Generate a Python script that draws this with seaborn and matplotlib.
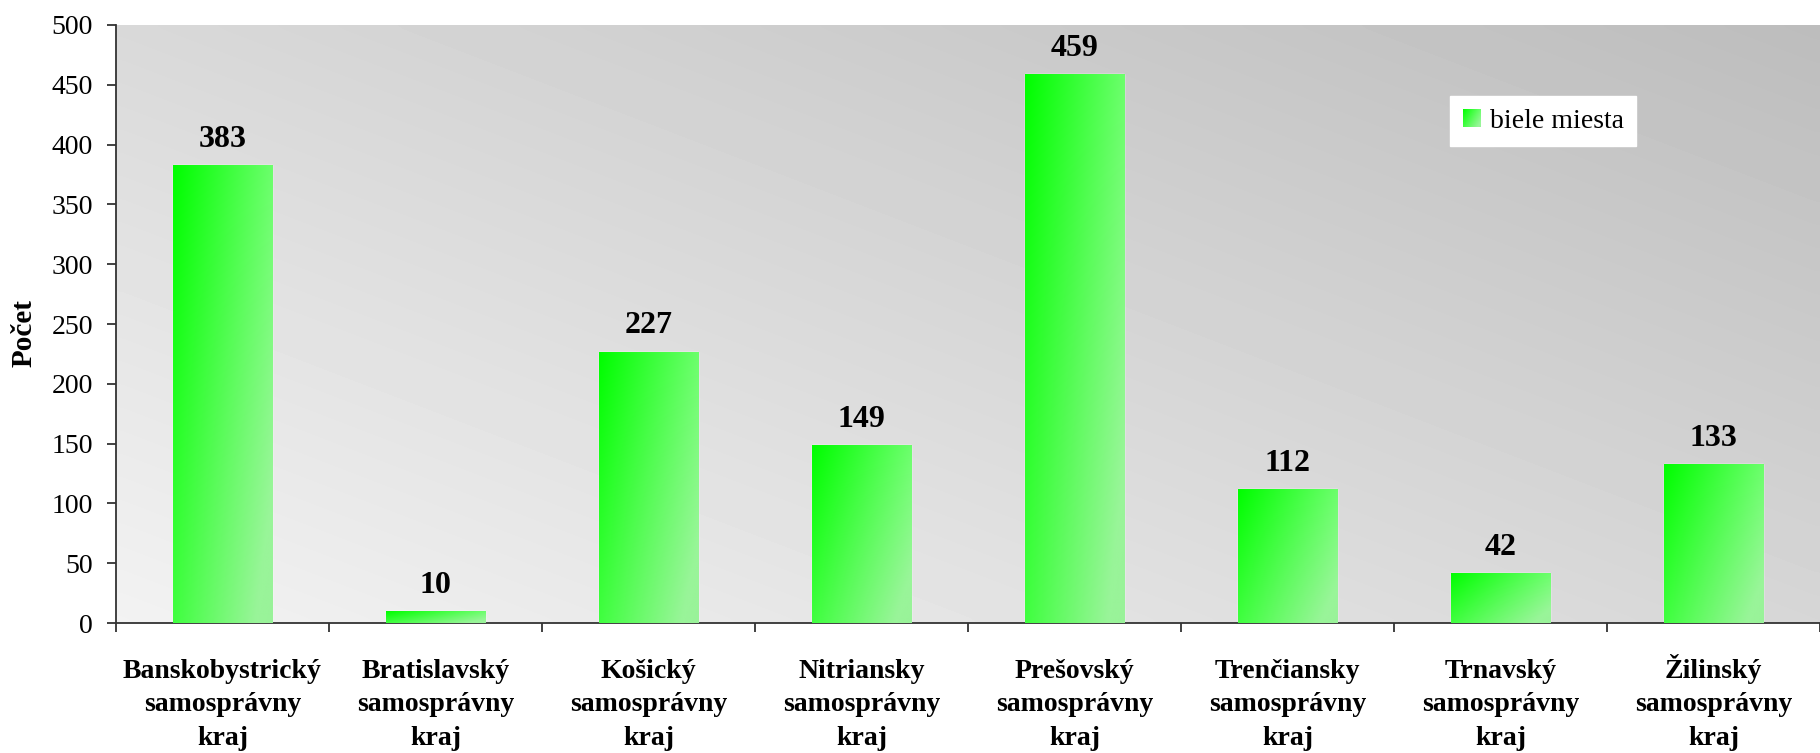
import numpy as np
import pandas as pd
import matplotlib
matplotlib.use("Agg")
import matplotlib.pyplot as plt
import seaborn as sns
from matplotlib.legend_handler import HandlerBase
from matplotlib.image import BboxImage
from matplotlib.transforms import Bbox, TransformedBbox
from matplotlib.patches import Patch

sns.set_style("white")
plt.rcParams['font.family'] = ['Liberation Serif', 'DejaVu Serif']
plt.rcParams['text.color'] = 'black'
plt.rcParams['axes.labelcolor'] = 'black'
plt.rcParams['ytick.labelcolor'] = 'black'

# data
kraje = ["Banskobystrický\nsamosprávny\nkraj", "Bratislavský\nsamosprávny\nkraj",
         "Košický\nsamosprávny\nkraj", "Nitriansky\nsamosprávny\nkraj",
         "Prešovský\nsamosprávny\nkraj", "Trenčiansky\nsamosprávny\nkraj",
         "Trnavský\nsamosprávny\nkraj", "Žilinský\nsamosprávny\nkraj"]
pocty = [383, 10, 227, 149, 459, 112, 42, 133]
seria = "biele miesta"

df = pd.DataFrame({"kraj": kraje, "pocet": pocty})


def green_grad(n=60):
    uu = np.linspace(0, 1, n)[None, :]
    dd = np.linspace(1, 0, n)[:, None]  # 1 bottom, 0 top
    wh = np.clip(0.42 * uu + 0.25 * dd, 0, 0.6)
    img = np.zeros((n, n, 3))
    img[..., 0] = wh
    img[..., 1] = 1.0 - 0.05 * uu * dd
    img[..., 2] = wh
    return img


class GradHandler(HandlerBase):
    def create_artists(self, legend, orig_handle, xdescent, ydescent,
                       width, height, fontsize, trans):
        bb = Bbox.from_bounds(-xdescent, -ydescent, width, height)
        im = BboxImage(TransformedBbox(bb, trans), interpolation="bilinear",
                       origin="lower")
        im.set_data(green_grad())
        return [im]


fig = plt.figure(figsize=(18.2, 7.53), dpi=100)
ax = fig.add_axes([0.0637, 0.1726, 0.9363, 0.7942])

sns.barplot(data=df, x="kraj", y="pocet", color="#40ff40", width=0.465,
            saturation=1, ax=ax, zorder=2)

# gray diagonal background
nx, ny = 200, 100
u = np.linspace(0, 1, nx)[None, :]
v = np.linspace(0, 1, ny)[:, None]   # 0 bottom, 1 top
g = 0.95 - 0.11 * u - 0.10 * v
ax.imshow(g, cmap="gray", vmin=0, vmax=1, extent=[-0.5, 7.5, 0, 500],
          origin="lower", aspect="auto", zorder=0, interpolation="bicubic")

# green gradient on bars
for p in ax.patches:
    x0, y0 = p.get_x(), p.get_y()
    w, h = p.get_width(), p.get_height()
    im = ax.imshow(green_grad(), extent=[x0, x0 + w, y0, y0 + h], origin="lower",
                   aspect="auto", zorder=3, interpolation="bilinear")
    im.set_clip_path(p)

ax.set_xlim(-0.5, 7.5)
ax.set_ylim(0, 500)

# value labels
for i, val in enumerate(pocty):
    ax.annotate(str(val), (i, val), xytext=(0, 13), textcoords="offset points",
                ha="center", va="baseline", fontsize=23, fontweight="bold", zorder=5)

# axes styling
sns.despine(ax=ax, top=True, right=True)
for s in ["left", "bottom"]:
    ax.spines[s].set_color("#333333")
    ax.spines[s].set_linewidth(1.3)
ax.set_yticks(range(0, 501, 50))
ax.tick_params(axis="y", which="major", length=6.5, width=1.3, color="#333333",
               labelsize=20, pad=10, left=True)
ax.set_xticks(np.arange(-0.5, 8, 1), minor=True)
ax.tick_params(axis="x", which="minor", length=6.5, width=1.3, color="#333333",
               direction="out", bottom=True)
ax.tick_params(axis="x", which="major", length=0)
ax.set_xticks(range(len(kraje)))
ax.set_xticklabels([])
xtr = ax.get_xaxis_transform()
for i, k in enumerate(kraje):
    ax.text(i, -0.204, k, transform=xtr, ha="center", va="baseline",
            fontsize=20, fontweight="bold", linespacing=1.45, multialignment="center")
ax.set_xlabel("")
ax.set_ylabel("Počet", fontsize=21, fontweight="bold")
ax.yaxis.set_label_coords(-0.046, 0.485)

# legend
leg = ax.legend(handles=[Patch(label=seria)], handler_map={Patch: GradHandler()},
                loc="upper left", bbox_to_anchor=(0.783, 0.881), borderaxespad=0,
                frameon=True, fancybox=False, framealpha=1, edgecolor="white",
                fontsize=20, handlelength=0.62, handleheight=0.62,
                handletextpad=0.35, borderpad=0.45)
leg.get_frame().set_facecolor("white")

fig.savefig("out.png", dpi=100)
